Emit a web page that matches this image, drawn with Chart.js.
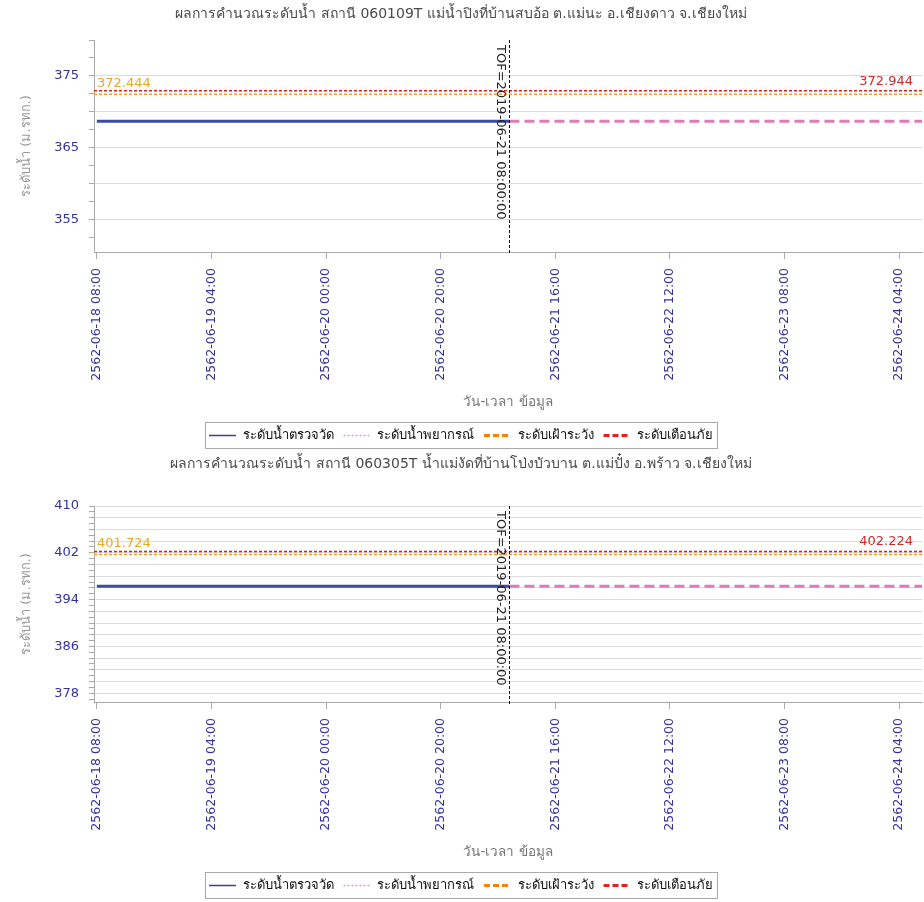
<!DOCTYPE html>
<html>
<head>
<meta charset="utf-8">
<script src="https://cdn.jsdelivr.net/npm/chart.js@4.4.1/dist/chart.umd.min.js"></script>
<style>
  body { margin: 0; background: #fff; }
  canvas { display: block; }
</style>
</head>
<body>
<canvas id="chart1" width="924" height="452"></canvas>
<canvas id="chart2" width="924" height="450"></canvas>
<script>
// hours counted from 2562-06-18 08:00
const xTickHours = [0, 20, 40, 60, 80, 100, 120, 140];
const xTickLabels = ['2562-06-18 08:00', '2562-06-19 04:00', '2562-06-20 00:00', '2562-06-20 20:00',
                     '2562-06-21 16:00', '2562-06-22 12:00', '2562-06-23 08:00', '2562-06-24 04:00'];
const xMin = -0.5, xMax = 144;
const tofHour = 72;
const tofLabel = 'TOF=2019-06-21 08:00:00';

const obsHours = [0, 12, 24, 36, 48, 60, 72];
const fcstHours = [72, 84, 96, 108, 120, 132, 144];

// station 060109T
const title1 = 'ผลการคำนวณระดับน้ำ สถานี 060109T แม่น้ำปิงที่บ้านสบอ้อ ต.แม่นะ อ.เชียงดาว จ.เชียงใหม่';
const obsLevel1 = [368.7, 368.7, 368.7, 368.7, 368.7, 368.7, 368.7];
const fcstLevel1 = [368.7, 368.7, 368.7, 368.7, 368.7, 368.7, 368.7];
const watch1 = 372.444, warn1 = 372.944;
const yTickLabels1 = [355, 365, 375];

// station 060305T
const title2 = 'ผลการคำนวณระดับน้ำ สถานี 060305T น้ำแม่งัดที่บ้านโป่งบัวบาน ต.แม่ปั๋ง อ.พร้าว จ.เชียงใหม่';
const obsLevel2 = [396.3, 396.3, 396.3, 396.3, 396.3, 396.3, 396.3];
const fcstLevel2 = [396.3, 396.3, 396.3, 396.3, 396.3, 396.3, 396.3];
const watch2 = 401.724, warn2 = 402.224;
const yTickLabels2 = [378, 386, 394, 402, 410];

const seriesNames = ['ระดับน้ำตรวจวัด', 'ระดับน้ำพยากรณ์', 'ระดับเฝ้าระวัง', 'ระดับเตือนภัย'];

const FONT = 'Tahoma, "DejaVu Sans", sans-serif';
const legendStyles = [
  {strokeStyle: '#3a3f9a', lineWidth: 1.5, lineDash: []},
  {strokeStyle: '#e89ad0', lineWidth: 1.5, lineDash: [2, 2]},
  {strokeStyle: '#ff8000', lineWidth: 3, lineDash: [6, 3]},
  {strokeStyle: '#e82020', lineWidth: 3, lineDash: [6, 3]}
];

function pairs(xs, ys) {
  return xs.map((h, i) => ({x: h, y: ys[i]}));
}

const markers = {
  id: 'markers',
  afterDatasetsDraw(chart, args, opts) {
    const {ctx, chartArea: a, scales: {x, y}} = chart;
    ctx.save();
    ctx.font = '13px ' + FONT;
    ctx.textBaseline = 'alphabetic';
    ctx.fillStyle = '#e9a825';
    ctx.textAlign = 'left';
    ctx.fillText(opts.watch.toFixed(3), a.left + 3, y.getPixelForValue(opts.watch) - 7);
    ctx.fillStyle = '#cc2b2b';
    ctx.textAlign = 'right';
    ctx.fillText(opts.warn.toFixed(3), a.right - 9, y.getPixelForValue(opts.warn) - 6);

    const tx = Math.round(x.getPixelForValue(tofHour)) + 0.5;
    ctx.strokeStyle = '#111';
    ctx.lineWidth = 1;
    ctx.setLineDash([3, 2]);
    ctx.beginPath();
    ctx.moveTo(tx, a.top);
    ctx.lineTo(tx, a.bottom + 3);
    ctx.stroke();
    ctx.setLineDash([]);
    ctx.translate(tx - 3, a.top + 5);
    ctx.rotate(Math.PI / 2);
    ctx.fillStyle = '#222';
    ctx.textAlign = 'left';
    ctx.textBaseline = 'top';
    ctx.fillText(tofLabel, 0, 0);
    ctx.restore();
  },
  afterDraw(chart) {
    const boxes = chart.legend.legendHitBoxes;
    if (!boxes || !boxes.length) return;
    const left = Math.min(...boxes.map(b => b.left)) - 4;
    const right = Math.max(...boxes.map(b => b.left + b.width)) + 4;
    const top = boxes[0].top - 7;
    const ctx = chart.ctx;
    ctx.save();
    ctx.strokeStyle = '#aaa';
    ctx.lineWidth = 1;
    ctx.strokeRect(Math.round(left) + 0.5, Math.round(top) + 0.5, Math.round(right - left), Math.round(boxes[0].height + 13));
    ctx.restore();
  }
};

function buildChart(id, s) {
  return new Chart(document.getElementById(id), {
    type: 'line',
    data: {
      datasets: [
        {label: seriesNames[0], data: pairs(obsHours, s.obs), borderColor: '#3c4ba6', borderWidth: 3},
        {label: seriesNames[1], data: pairs(fcstHours, s.fcst), borderColor: '#e07ab8', borderWidth: 3, borderDash: [10, 5]},
        {label: seriesNames[2], data: pairs([xMin, xMax], [s.watch, s.watch]), borderColor: '#f0a020', borderWidth: 1.5, borderDash: [3, 2]},
        {label: seriesNames[3], data: pairs([xMin, xMax], [s.warn, s.warn]), borderColor: '#d42020', borderWidth: 1.5, borderDash: [3, 2]}
      ]
    },
    options: {
      responsive: false,
      animation: false,
      devicePixelRatio: 1,
      elements: {point: {radius: 0}, line: {tension: 0}},
      layout: {padding: {left: 0, right: 2, top: 0, bottom: 0}},
      plugins: {
        tooltip: {enabled: false},
        title: {
          display: true,
          text: s.title,
          color: '#4a4a4a',
          font: {family: FONT, size: 14, weight: 'normal'},
          padding: s.titlePad
        },
        legend: {
          position: 'bottom',
          labels: {
            usePointStyle: true,
            pointStyleWidth: 27,
            padding: 10,
            color: '#111',
            font: {family: FONT, size: 13},
            generateLabels: chart => chart.data.datasets.map((d, i) => Object.assign({
              text: d.label, datasetIndex: i, fillStyle: 'transparent', fontColor: '#111',
              pointStyle: 'line', hidden: false
            }, legendStyles[i]))
          }
        },
        markers: {watch: s.watch, warn: s.warn}
      },
      scales: {
        x: {
          type: 'linear',
          min: xMin,
          max: xMax,
          afterBuildTicks: scale => { scale.ticks = xTickHours.map(v => ({value: v})); },
          afterFit: scale => { scale.height = 167; },
          grid: {drawOnChartArea: false, tickLength: 7, tickColor: '#aaa'},
          border: {color: '#aaa'},
          ticks: {
            autoSkip: false,
            maxRotation: 90,
            minRotation: 90,
            padding: 9,
            color: '#333399',
            font: {family: FONT, size: 12.5},
            callback: (v) => xTickLabels[xTickHours.indexOf(v)] || ''
          },
          title: {
            display: true,
            text: 'วัน-เวลา ข้อมูล',
            color: '#777',
            font: {family: FONT, size: 13.5},
            padding: {top: 0, bottom: 8}
          }
        },
        y: {
          min: s.yMin,
          max: s.yMax,
          afterFit: scale => { scale.width = 94; },
          grid: {
            tickLength: 5,
            tickColor: '#aaa',
            color: c => (c.tick && c.tick.value % s.gridEvery === 0 && (s.topGrid || c.tick.value < s.yMax)) ? '#dcdcdc' : 'rgba(0,0,0,0)'
          },
          border: {color: '#aaa'},
          ticks: {
            stepSize: s.yStep,
            includeBounds: false,
            autoSkip: false,
            padding: 10,
            color: '#333399',
            font: {family: FONT, size: 13},
            callback: v => s.yLabels.includes(v) ? String(v) : ''
          },
          title: {
            display: true,
            text: 'ระดับน้ำ (ม.รทก.)',
            color: '#999',
            font: {family: FONT, size: 13},
            padding: {top: 19, bottom: 0}
          }
        }
      }
    },
    plugins: [markers]
  });
}

buildChart('chart1', {
  title: title1, obs: obsLevel1, fcst: fcstLevel1, watch: watch1, warn: warn1,
  yMin: 350.5, yMax: 380, yStep: 2.5, gridEvery: 5, topGrid: false, yLabels: yTickLabels1,
  titlePad: {top: 6, bottom: 17.2}
});
buildChart('chart2', {
  title: title2, obs: obsLevel2, fcst: fcstLevel2, watch: watch2, warn: warn2,
  yMin: 376.5, yMax: 410, yStep: 1, gridEvery: 2, topGrid: true, yLabels: yTickLabels2,
  titlePad: {top: 4, bottom: 33.2}
});
</script>
</body>
</html>
